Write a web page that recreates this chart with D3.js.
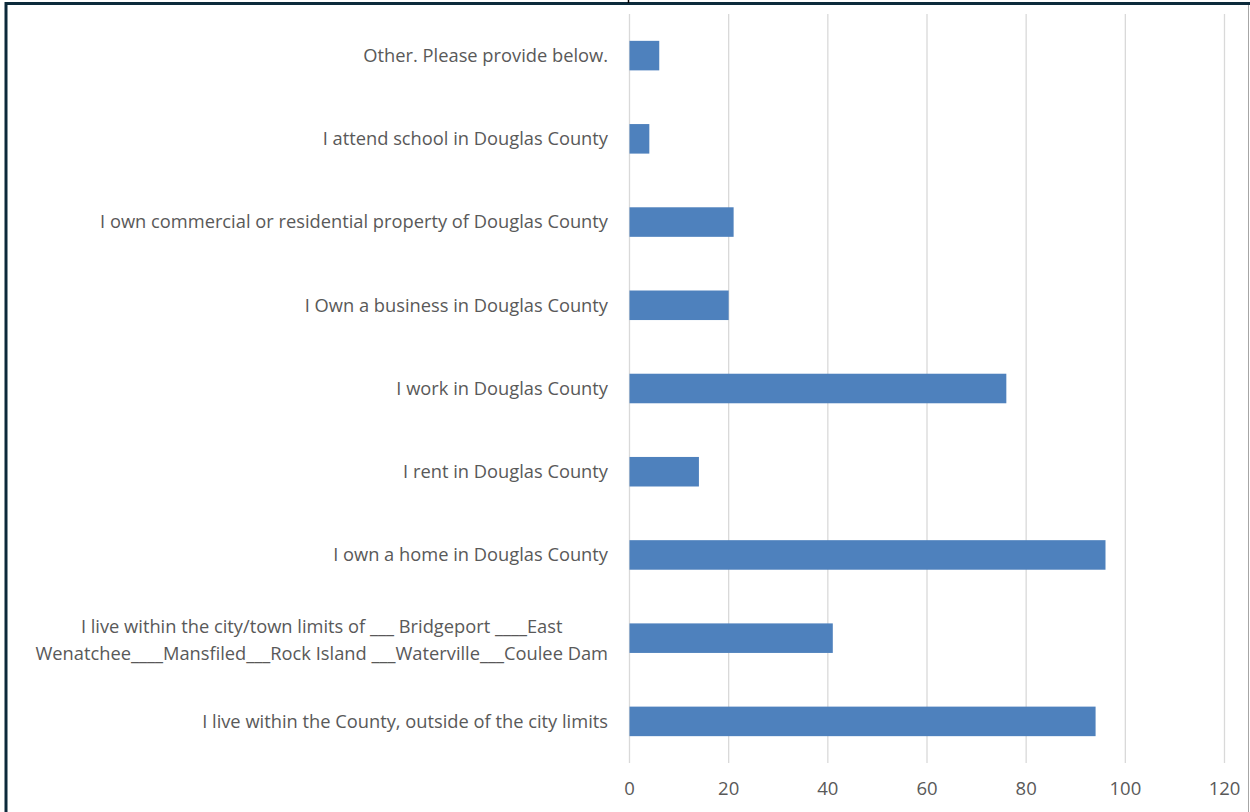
<!DOCTYPE html>
<html><head><meta charset="utf-8">
<script src="https://cdn.jsdelivr.net/npm/d3@7"></script>
<style>html,body{margin:0;padding:0;background:#fff;overflow:hidden}</style>
</head><body>
<script>
const categories = [
  "Other. Please provide below.",
  "I attend school in Douglas County",
  "I own commercial or residential property of Douglas County",
  "I Own a business in Douglas County",
  "I work in Douglas County",
  "I rent in Douglas County",
  "I own a home in Douglas County",
  "I live within the city/town limits of ___ Bridgeport ____East\nWenatchee____Mansfiled___Rock Island ___Waterville___Coulee Dam",
  "I live within the County, outside of the city limits"
];
const values = [6, 4, 21, 20, 76, 14, 96, 41, 94];
const xTicks = [0, 20, 40, 60, 80, 100, 120];

const W = 1250, H = 812;
const FONT = "Open Sans, Liberation Sans, Arial, sans-serif";
const svg = d3.select("body").append("svg").attr("width", W).attr("height", H);
svg.append("rect").attr("width", W).attr("height", H).attr("fill", "#fff");

const x = d3.scaleLinear().domain([0, 120]).range([629, 1224]);
const y = d3.scaleBand().domain(categories).range([14, 763]).paddingInner(0.645).paddingOuter(0.3225);

// gridlines
svg.append("g").selectAll("line").data(xTicks).join("line")
  .attr("x1", d => x(d) + 0.5).attr("x2", d => x(d) + 0.5)
  .attr("y1", 14).attr("y2", 763)
  .attr("stroke", "#d9d9d9").attr("stroke-width", 1.3);

// bars
svg.append("g").selectAll("rect").data(values).join("rect")
  .attr("x", x(0) + 0.5)
  .attr("y", (d, i) => y(categories[i]))
  .attr("width", d => x(d) - x(0))
  .attr("height", y.bandwidth())
  .attr("fill", "#4e81bd");

// x axis labels
const xAxis = d3.axisBottom(x).tickValues(xTicks).tickSize(0).tickPadding(0);
const gx = svg.append("g").attr("transform", "translate(0,782)").call(xAxis);
gx.select(".domain").remove();
gx.selectAll("text").attr("font-family", FONT)
  .attr("font-size", 18.5).attr("fill", "#595959").attr("dy", "0.71em");

// y labels
const labelRight = 608;
const lab = svg.append("g").attr("font-family", FONT)
  .attr("font-size", 18.3).attr("fill", "#595959");
categories.forEach((c, i) => {
  const lines = c.split("\n");
  const cy = y(c) + y.bandwidth() / 2;
  if (lines.length === 1) {
    lab.append("text").attr("x", labelRight).attr("y", cy).attr("dy", "0.35em")
      .attr("text-anchor", "end").text(c);
  } else {
    const t = lab.append("text").attr("text-anchor", "middle");
    const tmp = lines.map((l, k) => t.append("tspan").text(l));
    let maxW = 0;
    tmp.forEach(s => { maxW = Math.max(maxW, s.node().getComputedTextLength()); });
    const cx = labelRight - maxW / 2;
    tmp.forEach((s, k) => s.attr("x", cx).attr("y", cy + 1.5 + (k - (lines.length - 1) / 2) * 27).attr("dy", "0.35em"));
  }
});

// frame
svg.append("line").attr("x1", 5).attr("x2", W).attr("y1", 3.5).attr("y2", 3.5).attr("stroke", "#0c2a3b").attr("stroke-width", 3);
svg.append("line").attr("x1", 6).attr("x2", 6).attr("y1", 2).attr("y2", H).attr("stroke", "#0c2a3b").attr("stroke-width", 3);
svg.append("line").attr("x1", 1248.5).attr("x2", 1248.5).attr("y1", 5).attr("y2", H).attr("stroke", "#a6a6a6").attr("stroke-width", 1);
svg.append("line").attr("x1", 628.5).attr("x2", 628.5).attr("y1", 0).attr("y2", 3).attr("stroke", "#000").attr("stroke-width", 1.5);
</script>
</body></html>
